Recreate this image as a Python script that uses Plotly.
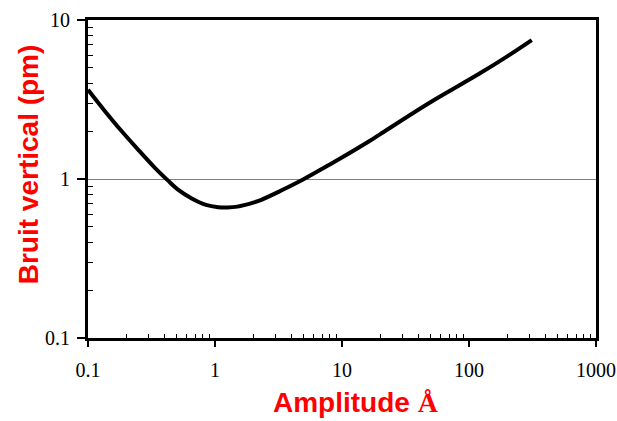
import plotly.graph_objects as go

amplitude = [0.1, 0.135, 0.183, 0.248, 0.335, 0.425, 0.508, 0.656, 0.85, 1.06, 1.25, 1.5,
             2.0, 2.29, 3.29, 5.02, 7.67, 9.6, 16.6, 19.9, 49.3, 122, 200, 312]
noise = [3.64, 2.69, 2.01, 1.53, 1.18, 0.98, 0.86, 0.755, 0.687, 0.665, 0.662, 0.67,
         0.71, 0.737, 0.843, 1.0, 1.21, 1.34, 1.74, 1.91, 3.03, 4.62, 5.91, 7.48]
x_ticks = [0.1, 1, 10, 100, 1000]
x_tick_labels = ["0.1", "1", "10", "100", "1000"]
y_ticks = [0.1, 1, 10]
y_tick_labels = ["0.1", "1", "10"]
x_minor = [m * d for d in [0.1, 1, 10, 100] for m in range(2, 10)]
y_minor = [m * d for d in [0.1, 1] for m in range(2, 10)]

fig = go.Figure()
fig.add_trace(go.Scatter(x=amplitude, y=noise, mode="lines",
                         line=dict(color="black", width=4, shape="spline", smoothing=1.0),
                         hoverinfo="skip", showlegend=False))

tick_font = dict(family="Liberation Serif, Times New Roman, serif", size=20, color="black")

fig.update_xaxes(type="log", range=[-1, 3], tickmode="array", tickvals=x_ticks,
                 ticktext=x_tick_labels, automargin=False, ticklabelstandoff=6,
                 showline=True, linecolor="black", linewidth=3, mirror=True,
                 ticks="outside", ticklen=6, tickwidth=1.5, tickcolor="black",
                 showgrid=False, zeroline=False, tickfont=tick_font,
                 minor=dict(tickmode="array", tickvals=x_minor, ticks="inside",
                            ticklen=4, tickwidth=1, tickcolor="black", showgrid=False))
fig.update_yaxes(type="log", range=[-1, 1], tickmode="array", tickvals=y_ticks,
                 ticktext=y_tick_labels, automargin=False, ticklabelstandoff=3,
                 showline=True, linecolor="black", linewidth=3, mirror=True,
                 ticks="outside", ticklen=8, tickwidth=1.5, tickcolor="black",
                 showgrid=True, gridcolor="#808080", gridwidth=1, zeroline=False,
                 tickfont=tick_font,
                 minor=dict(tickmode="array", tickvals=y_minor, ticks="inside",
                            ticklen=5, tickwidth=1, tickcolor="black", showgrid=False))

title_font = dict(family="Liberation Sans, Arial, sans-serif", size=28, color="red")
fig.add_annotation(text="<b>Bruit vertical (pm)</b>", xref="paper", yref="paper",
                   x=-0.117, y=0.545, textangle=-90, showarrow=False,
                   xanchor="center", yanchor="middle", font=title_font)
fig.add_annotation(text="<b>Amplitude <span style=\"font-family:'Liberation Serif', serif\">Å</span></b>",
                   xref="paper", yref="paper",
                   x=0.527, y=-0.204, showarrow=False,
                   xanchor="center", yanchor="middle", font=title_font)

fig.update_layout(width=617, height=421,
                  margin=dict(l=88, r=21, t=20, b=83),
                  paper_bgcolor="white", plot_bgcolor="white")

fig.write_html("out.html")
